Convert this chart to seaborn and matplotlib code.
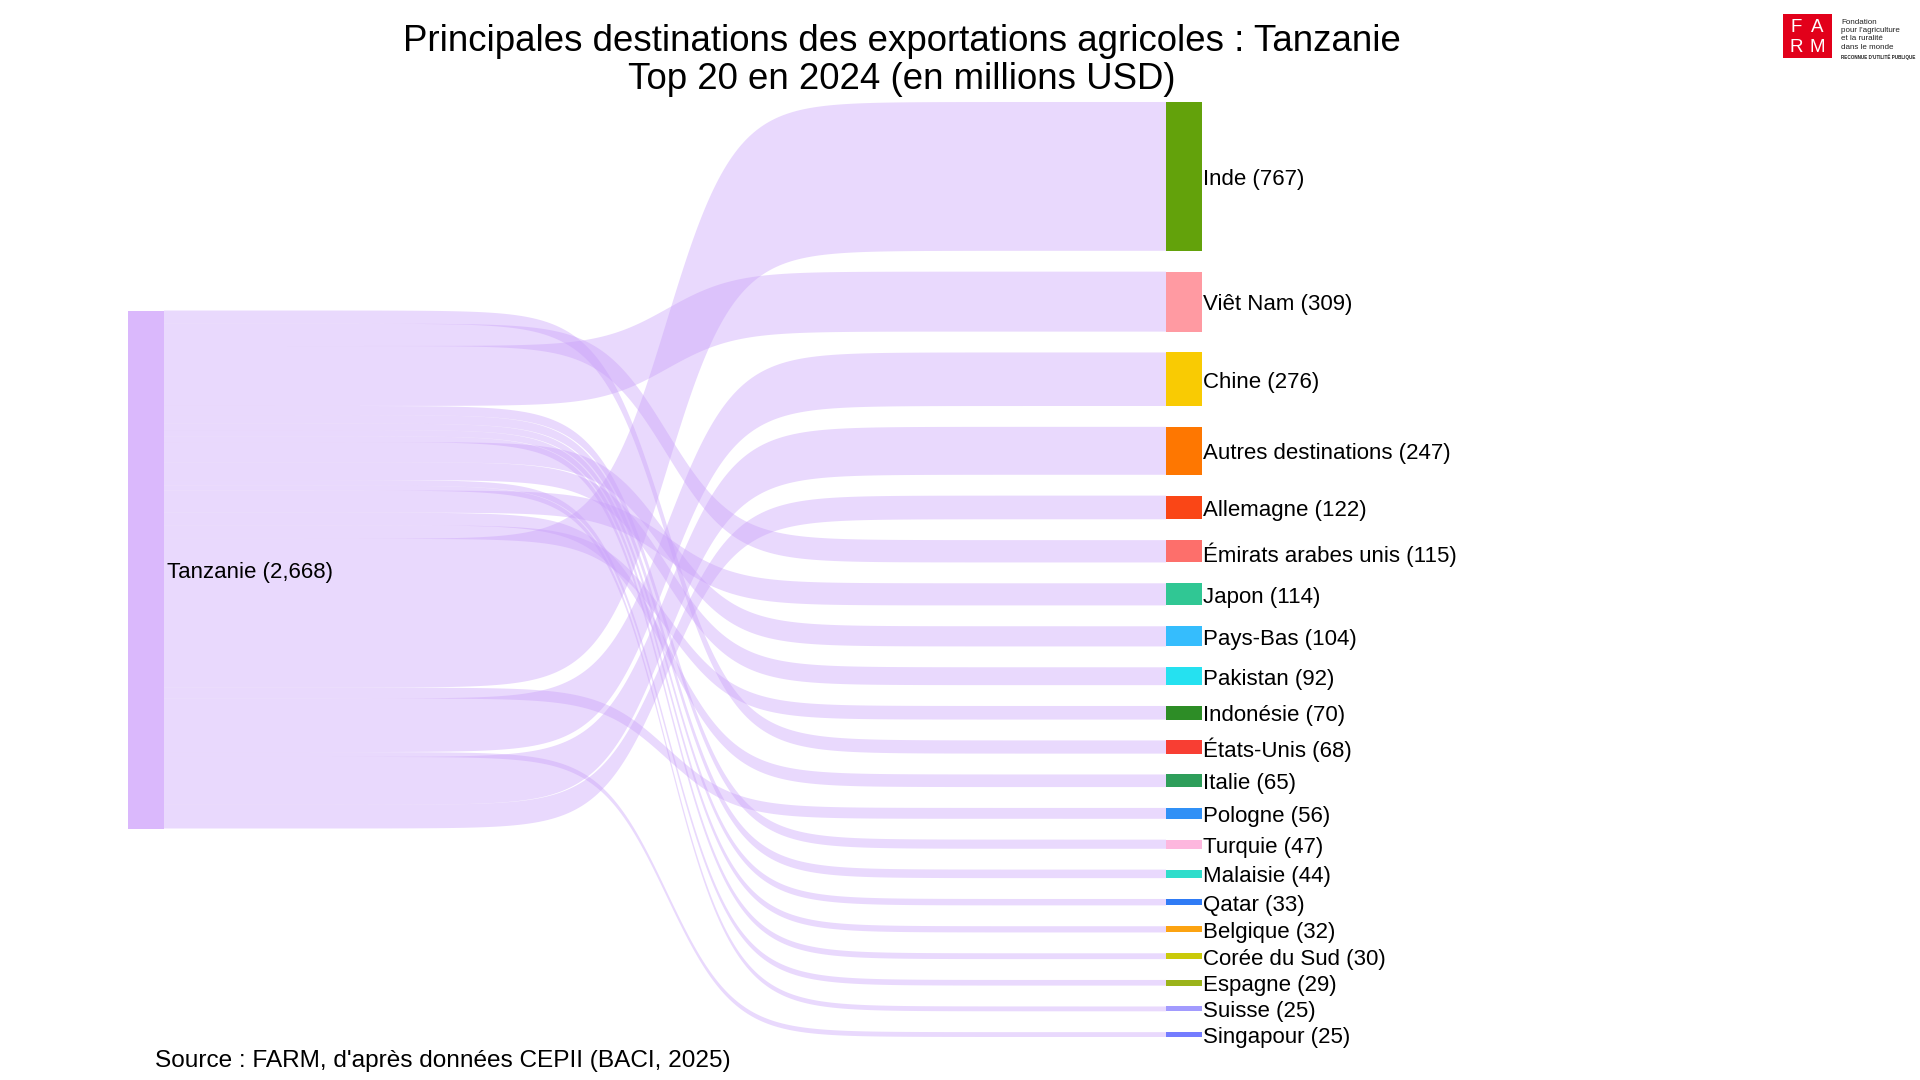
import matplotlib
matplotlib.use("Agg")
import matplotlib.pyplot as plt
import seaborn as sns
import numpy as np
from matplotlib.patches import Polygon, Rectangle

# ---------------- data ----------------
source_name = "Tanzanie"
source_total_label = "2,668"
destinations = ["Inde", "Viêt Nam", "Chine", "Autres destinations", "Allemagne",
                "Émirats arabes unis", "Japon", "Pays-Bas", "Pakistan", "Indonésie",
                "États-Unis", "Italie", "Pologne", "Turquie", "Malaisie", "Qatar",
                "Belgique", "Corée du Sud", "Espagne", "Suisse", "Singapour"]
values = [767, 309, 276, 247, 122, 115, 114, 104, 92, 70, 68, 65, 56, 47, 44, 33,
          32, 30, 29, 25, 25]
node_colors = ["#63A20B", "#FF9AA2", "#F9CB03", "#FE7701", "#FA4616", "#FD6F6B",
               "#30C794", "#35BDFD", "#25E1F0", "#2D8D26", "#F83E33", "#2E9E5A",
               "#3090F6", "#FDB7DE", "#2EDDCB", "#2F7BF5", "#FCA311", "#CACA0A",
               "#9BB31A", "#A29BFE", "#747CFF"]
# order in which the links leave the source node (top to bottom)
source_link_order = ["États-Unis", "Émirats arabes unis", "Viêt Nam", "Turquie",
                     "Malaisie", "Qatar", "Belgique", "Corée du Sud", "Pays-Bas",
                     "Pakistan", "Espagne", "Suisse", "Japon", "Italie", "Indonésie",
                     "Inde", "Pologne", "Chine", "Singapour", "Autres destinations",
                     "Allemagne"]
title_lines = ["Principales destinations des exportations agricoles : Tanzanie",
               "Top 20 en 2024 (en millions USD)"]
source_note = "Source : FARM, d'après données CEPII (BACI, 2025)"

# ---------------- style ----------------
sns.set_theme(style="white")
plt.rcParams["font.family"] = ["Liberation Sans", "DejaVu Sans"]
link_color = "#C9A0FA"
source_color = "#DAB8FC"

fig = plt.figure(figsize=(19.2, 10.8), dpi=100)
ax = fig.add_axes([0, 0, 1, 1])
ax.set_xlim(0, 1920)
ax.set_ylim(1080, 0)
ax.axis("off")

# layout
TOP, BOTTOM, GAP = 102, 1037, 20.85
SX0, SX1 = 128, 164
TX0, TX1 = 1166, 1202
n = len(values)
total = sum(values)
scale = (BOTTOM - TOP - GAP * (n - 1)) / total

tpos = {}
y = TOP
for name, v in zip(destinations, values):
    tpos[name] = (y, y + v * scale)
    y += v * scale + GAP

src_h = total * scale
src_top = (TOP + BOTTOM) / 2 - src_h / 2

# link shape: smooth S-curve concentrated in the middle
XC, S = 667, 67
xs = np.linspace(SX1, TX0, 400)
th = np.tanh((xs - XC) / S)
frac = (th - th[0]) / (th[-1] - th[0])

val = dict(zip(destinations, values))
cur = src_top
for name in source_link_order:
    h = val[name] * scale
    ys0, ys1 = cur, cur + h
    yt0, yt1 = tpos[name]
    top_edge = ys0 + (yt0 - ys0) * frac
    bot_edge = ys1 + (yt1 - ys1) * frac
    pts = np.concatenate([np.column_stack([xs, top_edge]),
                          np.column_stack([xs[::-1], bot_edge[::-1]])])
    ax.add_patch(Polygon(pts, closed=True, facecolor=link_color, alpha=0.4,
                         edgecolor="none", zorder=1))
    cur = ys1

# nodes
ax.bar([(SX0 + SX1) / 2], [src_h], bottom=[src_top], width=SX1 - SX0,
       color=source_color, edgecolor="none", zorder=2)
ax.bar([(TX0 + TX1) / 2] * n, [v * scale for v in values],
       bottom=[tpos[d][0] for d in destinations], width=TX1 - TX0,
       color=node_colors, edgecolor="none", zorder=2)

# labels
ax.text(SX1 + 3, src_top + src_h / 2 + 3, f"{source_name} ({source_total_label})",
        ha="left", va="center", fontsize=16, color="black", zorder=3)
for name, v in zip(destinations, values):
    y0, y1 = tpos[name]
    ax.text(TX1 + 1, (y0 + y1) / 2 + 3, f"{name} ({v})", ha="left", va="center",
            fontsize=16, color="black", zorder=3)

# title
ax.text(902, 51, title_lines[0], ha="center", va="baseline", fontsize=26.4, color="black")
ax.text(902, 89, title_lines[1], ha="center", va="baseline", fontsize=26.4, color="black")

# source note
ax.text(155, 1067, source_note, ha="left", va="baseline", fontsize=17.6, color="black")

# logo
ax.add_patch(Rectangle((1783, 14), 49, 44, facecolor="#E2001A", edgecolor="none", zorder=3))
for txt, lx, ly in [("F", 1796, 28), ("A", 1817, 28), ("R", 1796, 48), ("M", 1817, 48)]:
    ax.text(lx, ly, txt, ha="center", va="center", fontsize=13.5, color="white", zorder=4)
logo_lines = ["Fondation", "pour l'agriculture", "et la ruralité", "dans le monde"]
for i, t in enumerate(logo_lines):
    ax.text(1841, 22 + i * 8.5, t, ha="left", va="center", fontsize=5.8, color="#222222")
ax.text(1841, 57, "RECONNUE D'UTILITÉ PUBLIQUE", ha="left", va="center",
        fontsize=3.3, color="#222222", fontweight="bold")

fig.savefig("out.png", dpi=100, facecolor="white")
